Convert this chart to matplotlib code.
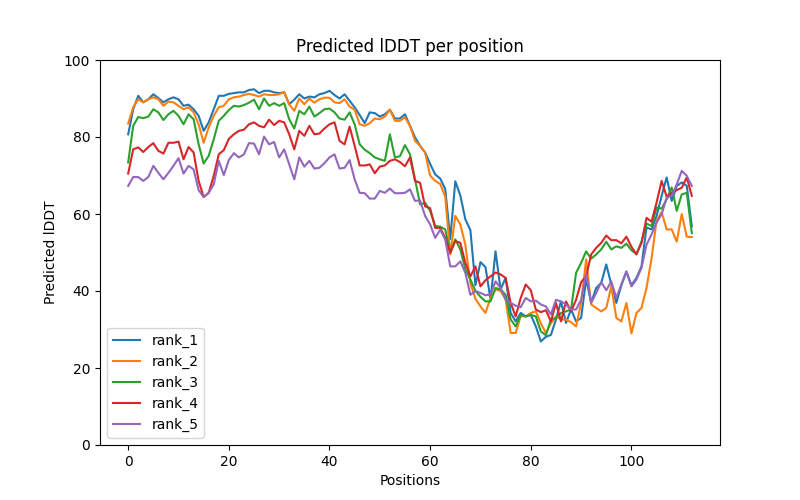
import matplotlib
matplotlib.use("Agg")
import matplotlib.pyplot as plt
import numpy as np

rank_1 = [80.7, 87.2, 90.7, 89.0, 89.8, 91.1, 90.1, 89.0, 89.8, 90.3, 89.8, 88.1, 88.4, 87.2, 85.5, 81.6, 83.8, 87.2, 90.7, 90.7,
          91.2, 91.4, 91.6, 91.6, 92.2, 92.4, 91.4, 92.0, 92.0, 91.6, 91.4, 91.6, 88.5, 89.7, 91.1, 90.0, 90.5, 90.3, 91.1, 91.4,
          92.0, 90.9, 90.0, 91.1, 89.4, 87.7, 85.7, 83.6, 86.4, 86.2, 85.3, 85.9, 87.1, 84.8, 84.8, 85.9, 82.9, 79.9, 77.7, 76.0,
          73.0, 70.3, 69.2, 66.5, 53.5, 68.5, 64.8, 58.6, 55.8, 41.5, 47.5, 46.2, 37.8, 50.3, 40.4, 43.4, 34.3, 32.1, 34.3, 33.4,
          33.8, 30.8, 26.9, 28.1, 28.6, 32.6, 37.3, 31.7, 35.2, 32.1, 33.0, 43.0, 37.0, 40.8, 42.1, 46.9, 41.7, 36.9, 41.5, 45.0,
          41.5, 43.4, 46.4, 56.5, 56.0, 59.5, 64.7, 69.5, 63.4, 67.3, 68.2, 67.3, 56.8]
rank_2 = [83.5, 87.7, 89.8, 89.0, 89.8, 90.3, 89.8, 88.1, 89.2, 89.0, 88.1, 87.2, 87.7, 86.4, 83.3, 78.5, 82.5, 85.5, 87.7, 88.1,
          89.8, 90.3, 90.5, 90.9, 91.2, 90.9, 90.5, 91.1, 90.9, 90.9, 91.1, 91.7, 88.5, 86.8, 90.0, 88.5, 90.0, 88.9, 89.8, 90.2,
          90.2, 89.0, 88.8, 89.8, 87.9, 87.1, 83.3, 82.9, 83.6, 84.8, 84.6, 85.3, 87.1, 84.2, 84.2, 85.1, 82.9, 79.0, 77.7, 76.0,
          70.0, 68.6, 67.8, 64.5, 49.5, 59.5, 57.3, 52.0, 42.0, 38.0, 36.0, 34.3, 38.2, 40.4, 40.0, 37.8, 29.1, 29.1, 33.5, 33.4,
          34.3, 34.7, 31.6, 29.1, 31.6, 33.4, 32.6, 32.6, 31.9, 30.8, 36.9, 48.2, 36.5, 35.6, 34.7, 35.6, 41.2, 33.0, 32.1, 36.9,
          29.0, 34.3, 35.6, 40.8, 48.5, 58.3, 60.5, 56.0, 56.0, 52.8, 60.0, 54.1, 54.0]
rank_3 = [73.4, 82.9, 85.2, 84.9, 85.3, 87.2, 86.4, 84.4, 85.9, 86.8, 85.5, 83.3, 85.9, 84.6, 78.1, 73.1, 75.1, 79.4, 84.2, 85.5,
          87.0, 88.1, 87.9, 88.3, 88.9, 89.7, 87.2, 90.0, 88.1, 88.8, 88.1, 88.8, 84.6, 82.2, 86.8, 85.9, 87.9, 85.3, 86.2, 87.2,
          87.4, 86.4, 84.8, 84.5, 86.4, 83.3, 78.1, 76.7, 75.8, 74.7, 74.2, 73.8, 80.7, 74.7, 75.0, 77.9, 75.5, 69.0, 62.5, 62.9,
          60.8, 56.9, 56.7, 56.0, 49.9, 53.4, 50.8, 45.6, 43.0, 40.0, 38.5, 37.3, 37.3, 40.8, 40.4, 39.0, 32.6, 30.8, 33.8, 33.4,
          33.8, 33.4, 29.5, 28.5, 32.6, 33.0, 34.3, 34.7, 35.2, 44.7, 47.3, 50.3, 48.4, 49.5, 50.8, 52.8, 50.8, 51.6, 51.2, 52.3,
          50.6, 49.6, 52.8, 57.5, 56.9, 61.7, 61.4, 63.8, 66.9, 60.8, 65.1, 65.5, 55.0]
rank_4 = [70.5, 76.8, 77.3, 76.1, 77.4, 78.4, 76.4, 75.7, 78.5, 78.5, 78.8, 74.2, 77.4, 76.0, 68.6, 64.4, 65.5, 69.9, 75.5, 76.6,
          79.5, 80.7, 81.6, 81.9, 83.3, 83.8, 82.9, 82.5, 84.5, 83.1, 84.2, 83.8, 80.7, 76.8, 81.6, 80.3, 82.9, 80.7, 80.9, 82.2,
          83.3, 83.8, 79.0, 78.1, 82.7, 77.7, 72.6, 72.6, 72.9, 70.6, 72.3, 72.6, 73.8, 74.2, 73.5, 72.4, 74.7, 68.6, 68.1, 62.0,
          61.5, 56.4, 56.4, 53.8, 49.9, 53.0, 52.5, 47.3, 43.8, 46.4, 41.2, 42.8, 43.8, 44.8, 44.3, 43.4, 36.9, 33.4, 38.2, 41.7,
          40.2, 35.2, 34.5, 35.0, 32.1, 36.9, 32.1, 37.3, 34.7, 37.7, 42.3, 43.8, 49.5, 51.2, 52.5, 54.4, 53.2, 53.2, 52.4, 54.1,
          51.5, 49.5, 52.5, 59.0, 58.0, 63.0, 68.6, 64.5, 65.5, 66.2, 66.8, 69.5, 64.7]
rank_5 = [67.3, 69.6, 69.6, 68.6, 69.6, 72.5, 70.7, 69.0, 70.7, 72.5, 74.5, 70.5, 72.5, 71.6, 66.2, 64.4, 65.5, 67.7, 73.8, 70.1,
          74.0, 75.8, 74.7, 75.5, 78.4, 78.3, 75.5, 80.1, 78.1, 78.7, 74.7, 76.8, 72.9, 69.0, 74.7, 72.3, 73.8, 71.8, 72.0, 73.2,
          74.7, 75.5, 71.8, 72.0, 74.0, 69.0, 65.5, 65.4, 64.0, 64.0, 66.0, 65.5, 66.6, 65.4, 65.4, 65.5, 66.4, 63.4, 63.5, 59.5,
          57.3, 53.8, 55.9, 53.4, 46.4, 46.4, 47.7, 44.7, 39.0, 40.0, 39.5, 38.9, 39.1, 42.5, 40.8, 37.8, 36.9, 36.2, 35.8, 38.2,
          37.3, 37.5, 36.5, 36.0, 33.9, 37.7, 37.3, 36.5, 35.2, 35.2, 37.7, 44.5, 36.9, 39.5, 42.3, 40.2, 42.5, 38.2, 41.7, 45.1,
          41.2, 43.0, 46.0, 52.0, 54.7, 57.8, 59.9, 64.3, 64.7, 67.7, 71.2, 69.9, 67.3]

series_names = ["rank_1", "rank_2", "rank_3", "rank_4", "rank_5"]
series = [rank_1, rank_2, rank_3, rank_4, rank_5]

fig, ax = plt.subplots(figsize=(8, 5), dpi=100)
for name, vals in zip(series_names, series):
    ax.plot(np.arange(len(vals)), vals, label=name)
ax.set_ylim(0, 100)
ax.set_title("Predicted lDDT per position")
ax.set_xlabel("Positions")
ax.set_ylabel("Predicted lDDT")
ax.legend(loc="lower left")
fig.savefig("out.png", dpi=100)
